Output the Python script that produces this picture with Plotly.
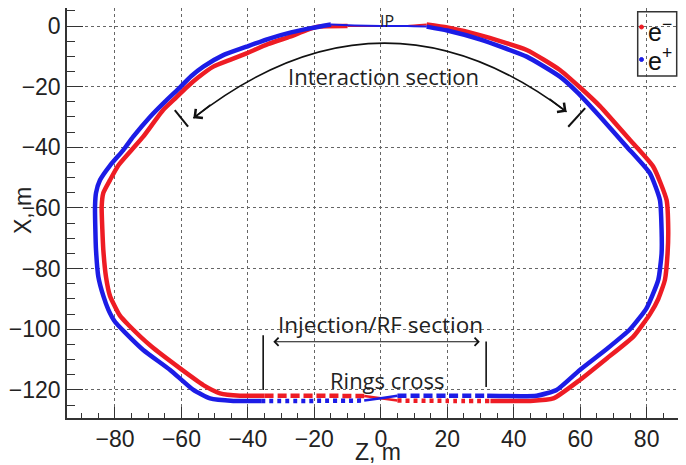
import plotly.graph_objects as go

# ---------------- data ----------------
# e+ ring (blue): (Z, X) in metres, starting at the IP and going round counter-clockwise
blue_z = [0, -8, -15, -21, -27, -34, -40.4, -47.4, -53.4, -57, -60.4, -65, -69.4, -74.5,
          -77.5, -81.5, -84.5, -85.7, -86, -85.9, -85.7, -85, -83.5, -82, -80, -77, -71.5,
          -63.4, -56.4, -51.4, -44.4, -36, -20, -5, 0, 5, 20, 32, 46.9, 52.9, 59.9, 68, 75,
          80, 83.5, 84.5, 84.5, 84, 81, 74, 66, 59, 53.9, 43.9, 29.8, 20, 13.8, 8, 0]
blue_x = [0, 0.2, 0.5, -0.7, -2.1, -4.3, -6.8, -9.6, -13.4, -16.5, -20.2, -25, -29.9, -36.5,
          -40.9, -46, -50.8, -55, -59.6, -67, -73.9, -82.7, -89, -93.5, -97.5, -101, -106.8,
          -113.4, -120, -122.8, -123.6, -123.6, -123.6, -123.5, -122.7, -121.9, -121.9, -121.9,
          -121.9, -120, -113.4, -106.5, -100, -93, -83.7, -75, -67.3, -57.4, -48.6, -39.8,
          -29.9, -21.7, -16.7, -10.1, -4.4, -1.5, -0.2, 0, 0]

# e- ring (red)
red_z = [0, -10, -19.3, -27.3, -34, -40.4, -45, -50.4, -55, -58.4, -62, -65.5, -71.5, -75,
         -79, -81.5, -83.5, -84, -83.8, -83.5, -82.7, -81.5, -80.5, -78.5, -76, -69, -60.4,
         -53.4, -48.4, -42.4, -35, -20, -5, 0, 5, 20, 33, 45, 51.9, 59.9, 68, 76, 81, 83.5,
         85.5, 86.3, 86.5, 86, 82, 75, 66, 59.9, 53.9, 43.9, 29.8, 20, 13.8, 8, 0]
red_x = [0, 0, -0.3, -3.5, -6, -9, -11, -13.4, -17, -20.2, -24, -27.7, -36.5, -40.9,
         -46, -50.8, -55, -59.6, -67, -73.9, -82.7, -89, -91.4, -95.5, -98.5, -105.7, -112.9,
         -118.4, -121.1, -121.9, -121.9, -121.9, -122, -122.7, -123.5, -123.6, -123.6, -123.6,
         -122.8, -116.7, -109.6, -102.4, -95, -90, -83.7, -75, -67.3, -57.4, -46.4, -37.6,
         -26.5, -20.2, -14.5, -7.9, -3, -0.5, 0.5, 0, 0]

x_tick_vals = [-80, -60, -40, -20, 0, 20, 40, 60, 80]
y_tick_vals = [0, -20, -40, -60, -80, -100, -120]

RED = "#ee1c24"
BLUE = "#1c1ce6"

# ---------------- geometry ----------------
# the page body adds an 8 px offset; geometry below is in screen pixels
OFF = 8
W, H = 686, 465
L, R, T, B = 59, 8, 0, 55          # figure margins (figure pixels)
PW, PH = W - L - R, H - T - B


def px(xs):
    return (xs - OFF - L) / PW


def py(ys):
    return (H - B - (ys - OFF)) / PH


# screen position of Z=0 / X=0 and scale (px per metre)
Z0, SZ = 380.8, 3.323
X0, SX = 26.0, 3.033


def edge_style(z0, x0, z1, x1, colour):
    zm, xm = (z0 + z1) / 2, (x0 + x1) / 2
    if xm > -1.5 and abs(zm) < 13:
        return ("solid", 2)
    if xm < -120.5 and -36 < zm < -5:
        return ("4px,4px" if colour == BLUE else "9px,4px", 4.5)
    if xm < -120.5 and 5 < zm < 33:
        return ("9px,4px" if colour == BLUE else "4px,4px", 4.5)
    if xm < -120.5 and -5 <= zm <= 5:
        return ("solid", 2.5)
    return ("solid", 4.5)


def ring_traces(zs, xs, colour, name):
    runs = []
    cur_z, cur_x, cur_style = [zs[0]], [xs[0]], None
    for i in range(len(zs) - 1):
        st = edge_style(zs[i], xs[i], zs[i + 1], xs[i + 1], colour)
        if cur_style is not None and st != cur_style:
            runs.append((cur_z, cur_x, cur_style))
            cur_z, cur_x = [zs[i]], [xs[i]]
        cur_style = st
        cur_z.append(zs[i + 1])
        cur_x.append(xs[i + 1])
    runs.append((cur_z, cur_x, cur_style))
    return [go.Scatter(x=z, y=x, mode="lines", name=name, showlegend=False,
                       line=dict(color=colour, width=w, dash=dash, shape="spline", smoothing=0.5),
                       hoverinfo="skip")
            for z, x, (dash, w) in runs]


fig = go.Figure()
for tr in ring_traces(red_z, red_x, RED, "e-"):
    fig.add_trace(tr)
for tr in ring_traces(blue_z, blue_x, BLUE, "e+"):
    fig.add_trace(tr)

x_range = [(L + OFF - Z0) / SZ, (W - R + OFF - Z0) / SZ]
y_range = [-(H - B + OFF - X0) / SX, (X0 - (T + OFF)) / SX]

TICKFONT = dict(family="Liberation Sans, Arial", size=23, color="#222")
axis_common = dict(
    showline=True, linecolor="#333", linewidth=1.5,
    showgrid=True, gridcolor="#666", gridwidth=1, griddash="dot",
    zeroline=False, ticks="inside", tickcolor="#333", tickwidth=1.2,
    tickfont=TICKFONT,
)

fig.update_xaxes(range=x_range, tickvals=x_tick_vals, ticklen=11, mirror=True,
                 minor=dict(ticks="inside", ticklen=5, dtick=5, tickcolor="#333", showgrid=False),
                 **axis_common)
fig.update_yaxes(range=y_range, tickvals=y_tick_vals, ticklen=16, mirror=False,
                 minor=dict(ticks="inside", ticklen=8, dtick=5, tickcolor="#333", showgrid=False),
                 **axis_common)

txt = dict(family="Open Sans", size=22, color="#222")
C = dict(xanchor="center", yanchor="middle", showarrow=False)

annotations = [
    dict(text="IP", x=px(387), y=py(8.5), xref="paper", yref="paper", showarrow=False,
         xanchor="center", yanchor="top", borderpad=0,
         font=dict(family="Open Sans", size=16, color="#222")),
    dict(text="Interaction section", x=0.7, y=-16.5, xref="x", yref="y", font=txt, **C),
    dict(text="Injection/RF section", x=-0.2, y=-98.3, xref="x", yref="y",
         font=dict(family="Open Sans", size=22.5, color="#222"), **C),
    dict(text="Rings cross", x=2.0, y=-116.7, xref="x", yref="y", font=txt, **C),
    # arrowheads of the curved interaction-section arrow
    dict(x=-56.4, y=-30.4, ax=-50.8, ay=-25.6, xref="x", yref="y", axref="x", ayref="y",
         text="", showarrow=True, arrowhead=4, arrowsize=1.4, arrowwidth=1.6, arrowcolor="#111"),
    dict(x=55.9, y=-28.3, ax=50.3, ay=-23.7, xref="x", yref="y", axref="x", ayref="y",
         text="", showarrow=True, arrowhead=4, arrowsize=1.4, arrowwidth=1.6, arrowcolor="#111"),
    # injection/RF double arrow
    dict(x=29.8, y=-104.1, ax=-32.8, ay=-104.1, xref="x", yref="y", axref="x", ayref="y",
         text="", showarrow=True, arrowhead=4, startarrowhead=4, arrowside="end+start",
         arrowsize=1.3, startarrowsize=1.3, arrowwidth=1.2, arrowcolor="#111"),
    # axis titles
    dict(text="Z, m", x=px(378), y=py(452), xref="paper", yref="paper",
         font=dict(family="Liberation Sans, Arial", size=23, color="#222"), **C),
    dict(text="X, m", x=px(23), y=py(210), xref="paper", yref="paper", textangle=-90,
         font=dict(family="Liberation Sans, Arial", size=23, color="#222"), **C),
    # legend texts
    dict(text="e<sup>−</sup>", x=px(646), y=py(30), xref="paper", yref="paper", showarrow=False,
         xanchor="left", yanchor="middle",
         font=dict(family="Liberation Sans, Arial", size=25, color="#111")),
    dict(text="e<sup>+</sup>", x=px(646), y=py(58.5), xref="paper", yref="paper", showarrow=False,
         xanchor="left", yanchor="middle",
         font=dict(family="Liberation Sans, Arial", size=25, color="#111")),
]

shapes = [
    # curved interaction-section arrow body
    dict(type="path", xref="x", yref="y", path="M -56.4,-30.4 Q 0,18 55.9,-28.3",
         line=dict(color="#111", width=1.6)),
    # bars marking the ends of the interaction section
    dict(type="line", xref="x", yref="y", x0=-62, y0=-27.7, x1=-58, y1=-33.2,
         line=dict(color="#111", width=2)),
    dict(type="line", xref="x", yref="y", x0=56.4, y0=-33.2, x1=61.5, y1=-27.1,
         line=dict(color="#111", width=2)),
    # bars marking the injection/RF section
    dict(type="line", xref="x", yref="y", x0=-35.4, y0=-102, x1=-35.4, y1=-120,
         line=dict(color="#111", width=1.6)),
    dict(type="line", xref="x", yref="y", x0=31.7, y0=-104, x1=31.7, y1=-119,
         line=dict(color="#111", width=1.6)),
    # legend box
    dict(type="rect", xref="paper", yref="paper", x0=px(637.7), x1=px(676.7), y0=py(76), y1=py(11.7),
         line=dict(color="#333", width=1.5), fillcolor="rgba(255,255,255,0)"),
    dict(type="circle", xref="paper", yref="paper", x0=px(639.5), x1=px(643.5), y0=py(29), y1=py(25),
         line=dict(color=RED, width=1), fillcolor=RED),
    dict(type="circle", xref="paper", yref="paper", x0=px(639.5), x1=px(643.5), y0=py(61.5), y1=py(57.5),
         line=dict(color=BLUE, width=1), fillcolor=BLUE),
]

fig.update_layout(
    width=W, height=H,
    margin=dict(l=L, r=R, t=T, b=B, autoexpand=False),
    paper_bgcolor="white", plot_bgcolor="white",
    showlegend=False,
    annotations=annotations, shapes=shapes,
)

fig.write_html("out.html")
